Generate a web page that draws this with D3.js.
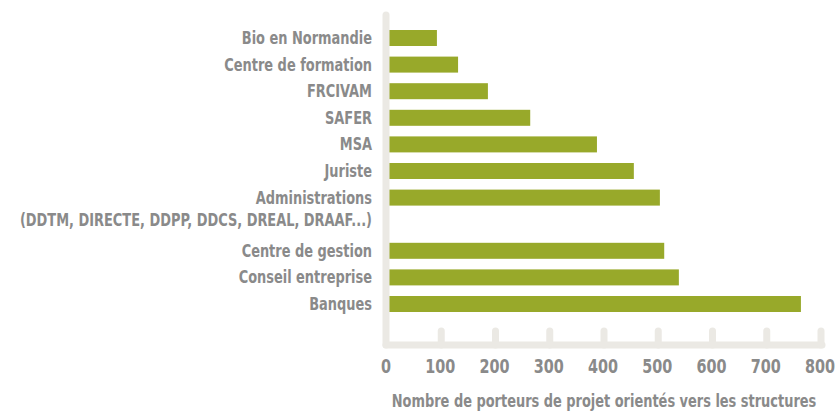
<!DOCTYPE html>
<html>
<head>
<meta charset="utf-8">
<script src="https://cdn.jsdelivr.net/npm/d3@7"></script>
<style>
  html, body { margin: 0; padding: 0; background: #fff; }
  text { font-family: "DejaVu Sans Condensed", "DejaVu Sans", sans-serif; font-weight: bold; fill: #8a8a8a; }
</style>
</head>
<body>
<svg id="chart" width="837" height="412"></svg>
<script>
// categories, top to bottom ("\n" splits a label over two lines)
const categories = [
  'Bio en Normandie',
  'Centre de formation',
  'FRCIVAM',
  'SAFER',
  'MSA',
  'Juriste',
  'Administrations\n(DDTM, DIRECTE, DDPP, DDCS, DREAL, DRAAF...)',
  'Centre de gestion',
  'Conseil entreprise',
  'Banques'
];
const values = [92, 131, 186, 264, 387, 455, 503, 511, 538, 763];
const xTicks = [0, 100, 200, 300, 400, 500, 600, 700, 800];
const xTitle = 'Nombre de porteurs de projet orientés vers les structures';

const svg = d3.select('#chart');
const barColor = '#98a92a';
const axisColor = '#ebe9e4';
const barHeight = 16;
const squeeze = 0.8; // no condensed font here, so narrow the glyphs

const x = d3.scaleLinear().domain([0, 800]).range([387, 821]);

// each row takes as many slots as its label has lines
const lines = categories.map(c => c.split('\n'));
const offsets = [];
lines.reduce((acc, l, i) => { offsets[i] = acc; return acc + l.length; }, 0);
const y = d3.scaleLinear().domain([0, 10]).range([30, 296]);

const rows = categories.map((c, i) => ({ lines: lines[i], value: values[i], slot: offsets[i] }));

// bars
svg.append('g')
  .selectAll('rect')
  .data(rows)
  .join('rect')
  .attr('x', x(0))
  .attr('y', d => y(d.slot))
  .attr('width', d => x(d.value) - x(0))
  .attr('height', barHeight)
  .attr('fill', barColor);

// category labels
const labels = svg.append('g')
  .attr('transform', `translate(372,0) scale(${squeeze},1)`)
  .selectAll('text')
  .data(rows)
  .join('text')
  .attr('text-anchor', 'end')
  .attr('font-size', 18);

labels.selectAll('tspan')
  .data(d => d.lines.map((t, j) => ({ t, j, d })))
  .join('tspan')
  .attr('x', 0)
  .attr('y', o => y(o.d.slot) + barHeight / 2 + 6 + o.j * 22)
  .text(o => o.t);

// axis frame: thick rounded light lines
const axisG = svg.append('g')
  .attr('stroke', axisColor)
  .attr('stroke-width', 7)
  .attr('stroke-linecap', 'round')
  .attr('fill', 'none');

axisG.append('line')
  .attr('x1', x(0) - 1).attr('x2', x(0) - 1)
  .attr('y1', 15).attr('y2', 345);

axisG.append('line')
  .attr('x1', x(0) - 1).attr('x2', x(800) + 1)
  .attr('y1', 345).attr('y2', 345);

axisG.selectAll('.tick')
  .data(xTicks.filter(t => t > 0))
  .join('line')
  .attr('class', 'tick')
  .attr('x1', d => x(d)).attr('x2', d => x(d))
  .attr('y1', 331).attr('y2', 345);

// tick labels
svg.append('g')
  .selectAll('text')
  .data(xTicks)
  .join('text')
  .attr('transform', d => `translate(${x(d) - 1},373) scale(${squeeze},1)`)
  .attr('text-anchor', 'middle')
  .attr('font-size', 20)
  .text(d => d);

// axis title
svg.append('text')
  .attr('transform', `translate(${(x(0) + x(800)) / 2},407) scale(${squeeze},1)`)
  .attr('text-anchor', 'middle')
  .attr('font-size', 18)
  .text(xTitle);
</script>
</body>
</html>
